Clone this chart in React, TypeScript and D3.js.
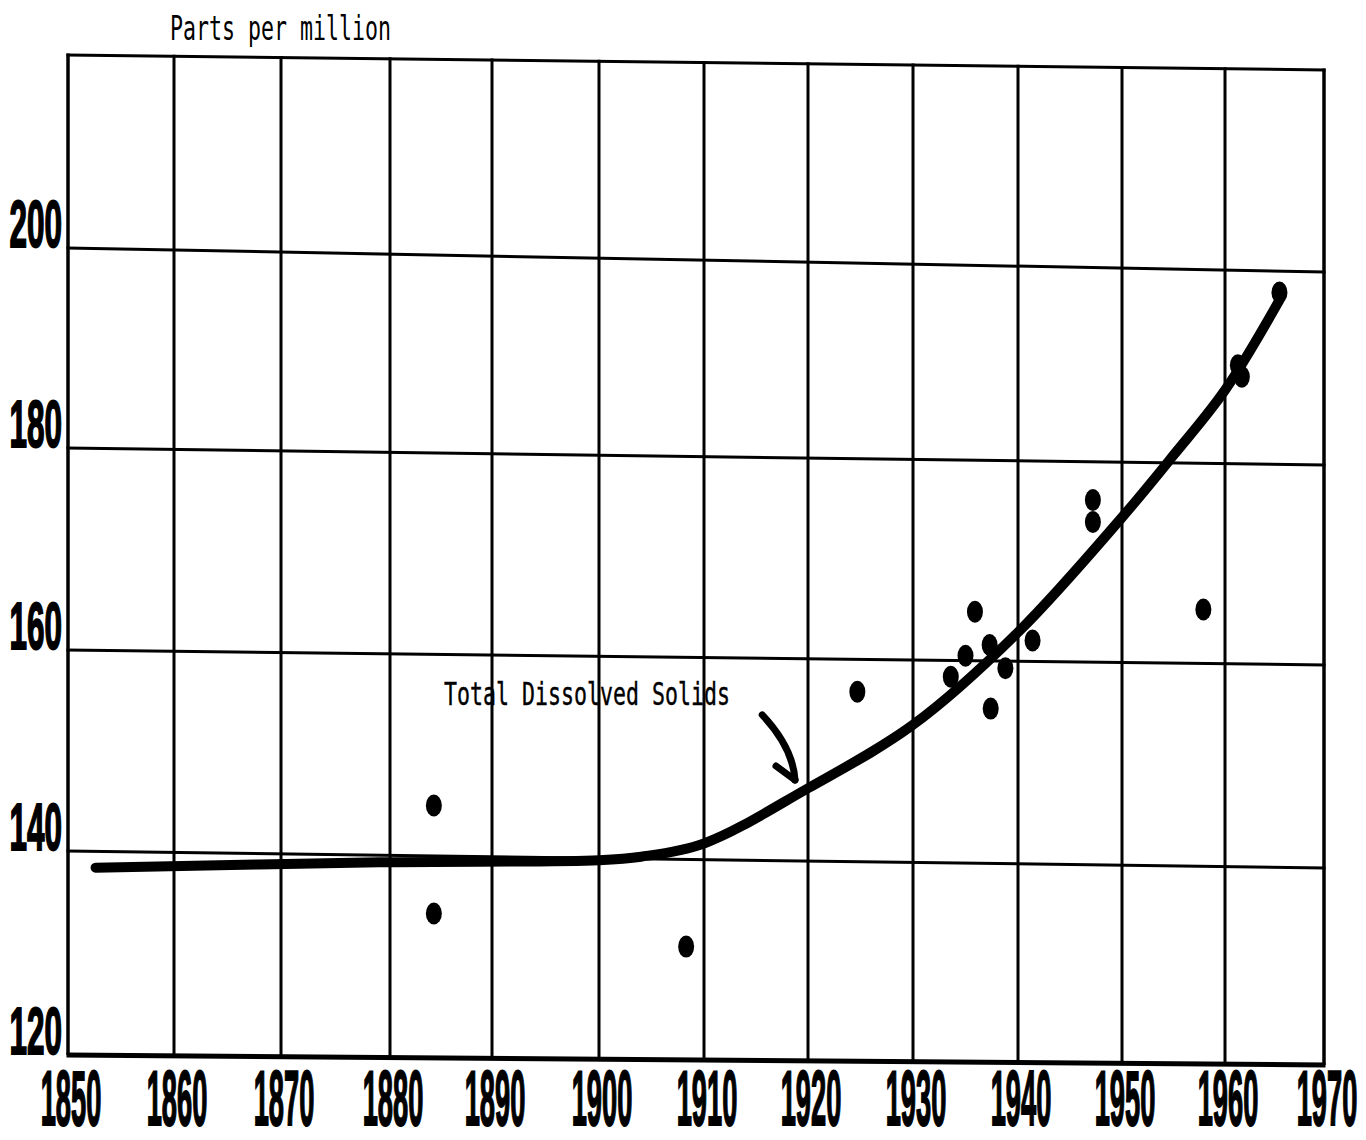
import React, { useRef, useEffect } from "react";
import * as d3 from "d3";

// years on the axis, ppm ticks
const xTicks = [1850, 1860, 1870, 1880, 1890, 1900, 1910, 1920, 1930, 1940, 1950, 1960, 1970];
const yTicks = [120, 140, 160, 180, 200];
const yTop = 219.2;

// smoothed trend line of total dissolved solids
const trendYears = [1852.6, 1879, 1900, 1904, 1910, 1920, 1930, 1940, 1950, 1955, 1960, 1965.5];
const trendPpm = [138.4, 139.3, 139.8, 140.2, 141.6, 147.2, 153.6, 162.9, 174.5, 180.8, 187.6, 197.0];

// individual samples
const sampleYears = [1884.3, 1884.3, 1908.3, 1924.7, 1933.6, 1935, 1935.9, 1937.3, 1937.4, 1938.8, 1941.4, 1947.2, 1947.2, 1957.9, 1961.3, 1961.7, 1965.5];
const samplePpm = [145.0, 134.3, 131.3, 156.8, 158.4, 160.5, 164.9, 161.6, 155.3, 159.3, 162.1, 176.2, 174.0, 165.4, 190.2, 189.0, 197.8];

// label + arrow annotation
const noteText = "Total Dissolved Solids";
const arrowFrom = { year: 1915.6, ppm: 154.4 };
const arrowTo = { year: 1918.75, ppm: 148.0 };

const App: React.FC = () => {
  const width = 1366;
  const height = 1140;
  const svg = useRef<SVGSVGElement>(null);

  useEffect(() => {
    const root = d3.select(svg.current);
    root.selectAll("*").remove();
    root.attr("width", width).attr("height", height);

    // the scanned grid is a little warped, so the scales follow the ruled lines
    const x = d3
      .scaleLinear()
      .domain(xTicks)
      .range([68, 174, 281, 390, 492, 599, 704, 808, 913, 1018, 1122, 1225, 1324]);
    const yLeft = d3
      .scaleLinear()
      .domain([...yTicks, yTop])
      .range([1055, 851, 650, 448, 248, 55]);
    const yRight = d3
      .scaleLinear()
      .domain([...yTicks, yTop])
      .range([1065, 868, 665, 465, 272, 70]);
    const x0 = x(1850);
    const x1 = x(1970);
    const proj = (year: number, ppm: number): [number, number] => {
      const px = x(year);
      const t = (px - x0) / (x1 - x0);
      return [px, yLeft(ppm) * (1 - t) + yRight(ppm) * t];
    };

    root.append("rect").attr("width", width).attr("height", height).attr("fill", "#fff");

    const g = root.append("g");

    g.selectAll("line.v")
      .data(xTicks)
      .join("line")
      .attr("class", "v")
      .attr("x1", (d) => proj(d, yTop)[0])
      .attr("y1", (d) => proj(d, yTop)[1] - 1.5)
      .attr("x2", (d) => proj(d, 120)[0])
      .attr("y2", (d) => proj(d, 120)[1])
      .attr("stroke", "#000")
      .attr("stroke-width", (d) => (d === 1850 || d === 1970 ? 3.5 : 3));

    g.selectAll("line.h")
      .data([...yTicks, yTop])
      .join("line")
      .attr("class", "h")
      .attr("x1", (d) => proj(1850, d)[0] - 1.5)
      .attr("y1", (d) => proj(1850, d)[1])
      .attr("x2", (d) => proj(1970, d)[0] + 1.5)
      .attr("y2", (d) => proj(1970, d)[1])
      .attr("stroke", "#000")
      .attr("stroke-width", (d) => (d === 120 ? 5 : 3));

    const line = d3.line<[number, number]>().curve(d3.curveCatmullRom.alpha(0.5));
    g.append("path")
      .attr("d", line(trendPpm.map((v, i) => proj(trendYears[i], v))))
      .attr("fill", "none")
      .attr("stroke", "#000")
      .attr("stroke-width", 10)
      .attr("stroke-linecap", "round");

    g.selectAll("ellipse")
      .data(samplePpm)
      .join("ellipse")
      .attr("cx", (d, i) => proj(sampleYears[i], d)[0])
      .attr("cy", (d, i) => proj(sampleYears[i], d)[1])
      .attr("rx", 8)
      .attr("ry", 11)
      .attr("fill", "#000");

    // hand drawn arrow pointing at the curve
    const a0 = proj(arrowFrom.year, arrowFrom.ppm);
    const a1 = proj(arrowTo.year, arrowTo.ppm);
    g.append("path")
      .attr(
        "d",
        `M${a0[0]},${a0[1]} Q${a1[0] - 2},${a0[1] + (a1[0] - a0[0])} ${a1[0]},${a1[1]}`
      )
      .attr("fill", "none")
      .attr("stroke", "#000")
      .attr("stroke-width", 7)
      .attr("stroke-linecap", "round");
    g.append("path")
      .attr("d", `M${a1[0] - 19},${a1[1] - 14} L${a1[0]},${a1[1]}`)
      .attr("fill", "none")
      .attr("stroke", "#000")
      .attr("stroke-width", 7)
      .attr("stroke-linecap", "round");

    // tick labels, very bold and very condensed
    root
      .selectAll("text.xt")
      .data(xTicks)
      .join("text")
      .attr("class", "xt")
      .attr("transform", (d) => `translate(${x(d) + 3},1125) scale(0.35,1)`)
      .attr("text-anchor", "middle")
      .attr("font-family", "Liberation Sans")
      .attr("font-weight", "bold")
      .attr("font-size", 78)
      .attr("stroke", "#000")
      .attr("stroke-width", 2)
      .text((d) => d);

    root
      .selectAll("text.yt")
      .data(yTicks)
      .join("text")
      .attr("class", "yt")
      .attr("transform", (d) => `translate(62,${yLeft(d) - 1}) scale(0.47,1)`)
      .attr("text-anchor", "end")
      .attr("font-family", "Liberation Sans")
      .attr("font-weight", "bold")
      .attr("font-size", 67)
      .attr("stroke", "#000")
      .attr("stroke-width", 2)
      .text((d) => d);

    root
      .append("text")
      .attr("transform", "translate(170,40) scale(0.635,1)")
      .attr("font-family", "DejaVu Sans Mono")
      .attr("font-size", 34)
      .text("Parts per million");

    root
      .append("text")
      .attr("transform", "translate(444,705) scale(0.675,1)")
      .attr("font-family", "DejaVu Sans Mono")
      .attr("font-size", 32)
      .attr("stroke", "#000")
      .attr("stroke-width", 0.4)
      .text(noteText);
  }, []);

  return (
    <svg
      ref={svg}
      style={{ position: "absolute", left: 0, top: 0, display: "block" }}
    ></svg>
  );
};

export default App;
